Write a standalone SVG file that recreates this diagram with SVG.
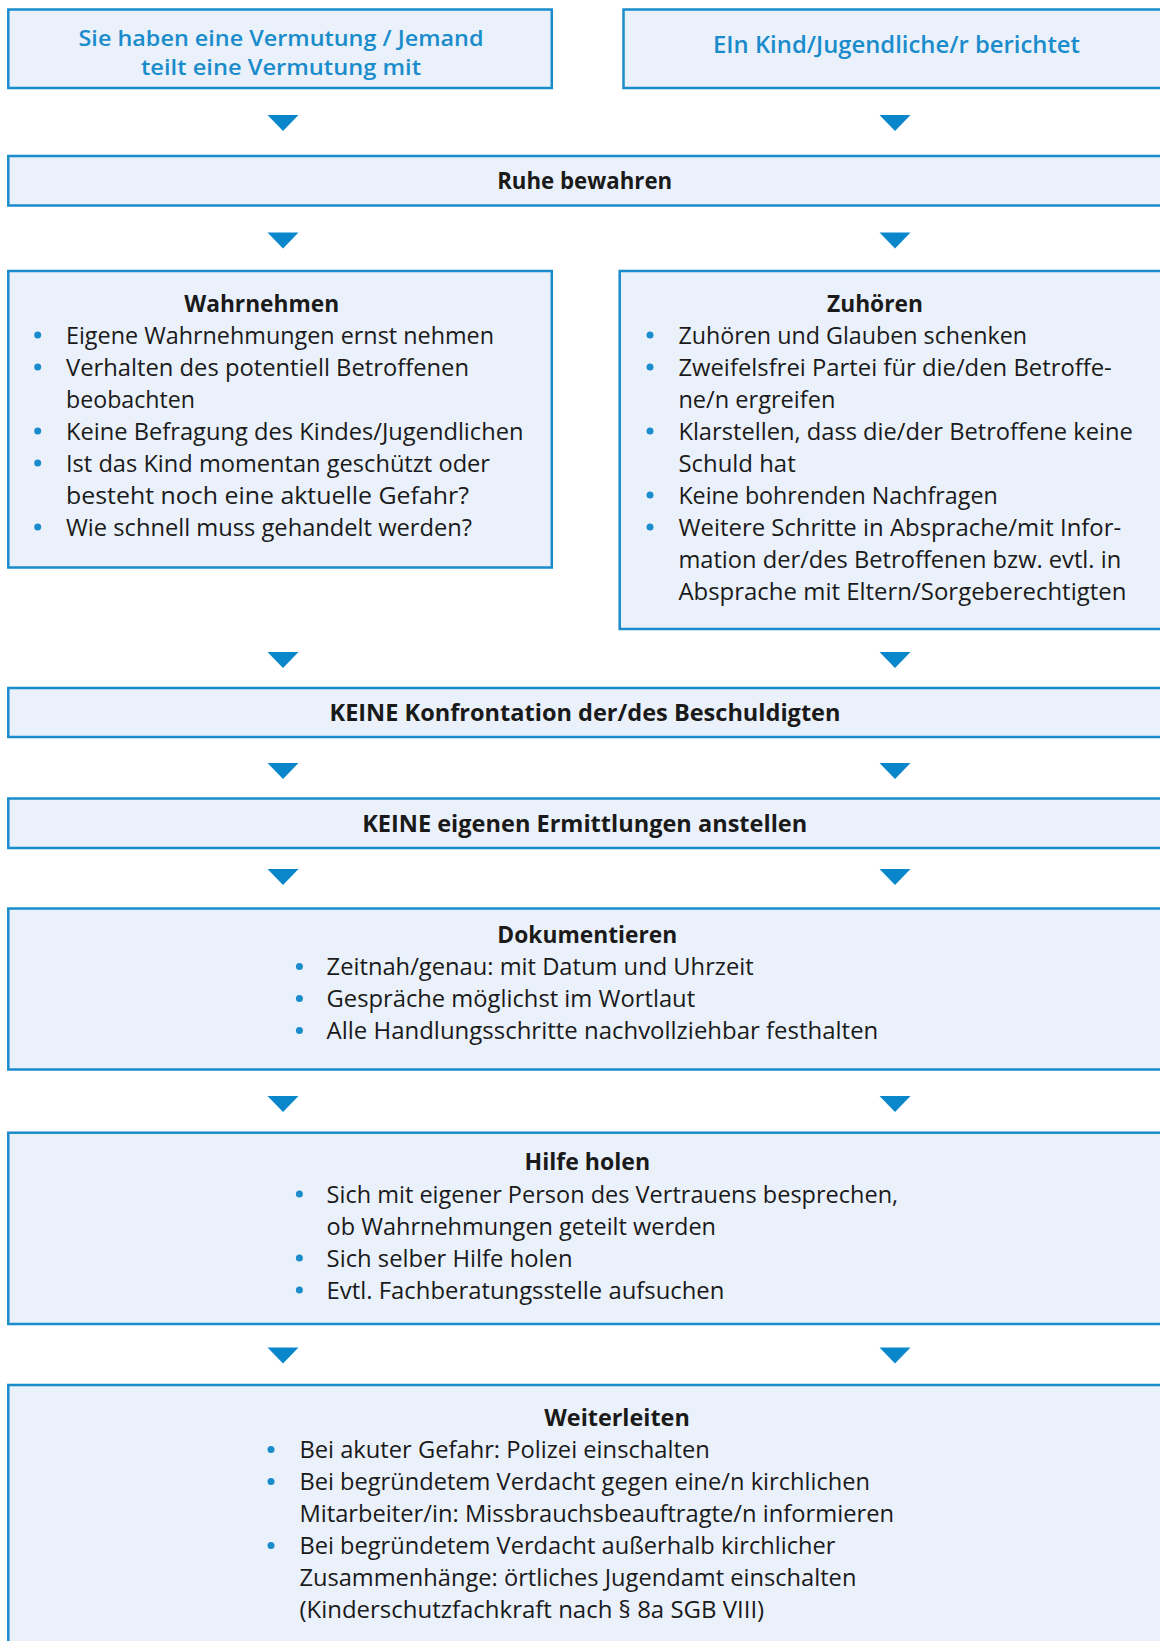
<svg xmlns="http://www.w3.org/2000/svg" width="1160" height="1641" viewBox="0 0 1160 1641">
<style>
.box{fill:#eaf1fa;stroke:#1a8ccc;stroke-width:2.5}
.arr{fill:#0a87cb}
.dot{fill:#1a8ccc}
text{font-family:"Open Sans","Noto Sans",sans-serif;fill:#1a1a1a}
.b{font-size:23.3px}
.t{font-size:23px;font-weight:700;text-anchor:middle}
.bt{font-size:21.3px;font-weight:600;text-anchor:middle;fill:#1a8ccc}
.bt2{font-size:23px;font-weight:600;text-anchor:middle;fill:#1a8ccc}
</style>
<rect width="1160" height="1641" fill="#ffffff"/>
<g id="connectors">
<polygon class="arr" points="267.5,115 298.5,115 283,131"/>
<polygon class="arr" points="879.5,115 910.5,115 895,131"/>
<polygon class="arr" points="267.5,232.5 298.5,232.5 283,248.5"/>
<polygon class="arr" points="879.5,232.5 910.5,232.5 895,248.5"/>
<polygon class="arr" points="267.5,652 298.5,652 283,668"/>
<polygon class="arr" points="879.5,652 910.5,652 895,668"/>
<polygon class="arr" points="267.5,763 298.5,763 283,779"/>
<polygon class="arr" points="879.5,763 910.5,763 895,779"/>
<polygon class="arr" points="267.5,869 298.5,869 283,885"/>
<polygon class="arr" points="879.5,869 910.5,869 895,885"/>
<polygon class="arr" points="267.5,1096 298.5,1096 283,1112"/>
<polygon class="arr" points="879.5,1096 910.5,1096 895,1112"/>
<polygon class="arr" points="267.5,1347.5 298.5,1347.5 283,1363.5"/>
<polygon class="arr" points="879.5,1347.5 910.5,1347.5 895,1363.5"/>
</g>
<g id="vermutung">
<rect class="box" x="8.3" y="9.5" width="543.5" height="78.5"/>
<text class="bt" x="281" y="45.5" textLength="405" lengthAdjust="spacingAndGlyphs">Sie haben eine Vermutung / Jemand</text>
<text class="bt" x="281" y="74.5" textLength="280" lengthAdjust="spacingAndGlyphs">teilt eine Vermutung mit</text>
</g>
<g id="kind-berichtet">
<rect class="box" x="623.5" y="9.5" width="560" height="78.5"/>
<text class="bt2" x="896.5" y="52.5" textLength="367" lengthAdjust="spacingAndGlyphs">EIn Kind/Jugendliche/r berichtet</text>
</g>
<g id="ruhe">
<rect class="box" x="8.3" y="156" width="1170" height="49.5"/>
<text class="t" x="584.7" y="189" textLength="175" lengthAdjust="spacingAndGlyphs">Ruhe bewahren</text>
</g>
<g id="wahrnehmen">
<rect class="box" x="8.3" y="271" width="543.5" height="296.5"/>
<text class="t" x="261.7" y="311.5" textLength="155" lengthAdjust="spacingAndGlyphs">Wahrnehmen</text>
<circle class="dot" cx="37.7" cy="335" r="3.5"/>
<circle class="dot" cx="37.7" cy="367" r="3.5"/>
<circle class="dot" cx="37.7" cy="431" r="3.5"/>
<circle class="dot" cx="37.7" cy="463" r="3.5"/>
<circle class="dot" cx="37.7" cy="527" r="3.5"/>
<text class="b" x="66" y="343.5" textLength="428" lengthAdjust="spacingAndGlyphs">Eigene Wahrnehmungen ernst nehmen</text>
<text class="b" x="66" y="375.5" textLength="403" lengthAdjust="spacingAndGlyphs">Verhalten des potentiell Betroffenen</text>
<text class="b" x="66" y="407.5" textLength="129" lengthAdjust="spacingAndGlyphs">beobachten</text>
<text class="b" x="66" y="439.5" textLength="457.5" lengthAdjust="spacingAndGlyphs">Keine Befragung des Kindes/Jugendlichen</text>
<text class="b" x="66" y="471.5" textLength="424" lengthAdjust="spacingAndGlyphs">Ist das Kind momentan geschützt oder</text>
<text class="b" x="66" y="503.5" textLength="403" lengthAdjust="spacingAndGlyphs">besteht noch eine aktuelle Gefahr?</text>
<text class="b" x="66" y="535.5" textLength="406" lengthAdjust="spacingAndGlyphs">Wie schnell muss gehandelt werden?</text>
</g>
<g id="zuhoeren">
<rect class="box" x="619.7" y="271" width="560" height="358"/>
<text class="t" x="875" y="311.5" textLength="96" lengthAdjust="spacingAndGlyphs">Zuhören</text>
<circle class="dot" cx="650" cy="335" r="3.5"/>
<circle class="dot" cx="650" cy="367" r="3.5"/>
<circle class="dot" cx="650" cy="431" r="3.5"/>
<circle class="dot" cx="650" cy="495" r="3.5"/>
<circle class="dot" cx="650" cy="527" r="3.5"/>
<text class="b" x="678.4" y="343.5" textLength="348.6" lengthAdjust="spacingAndGlyphs">Zuhören und Glauben schenken</text>
<text class="b" x="678.4" y="375.5" textLength="433.4" lengthAdjust="spacingAndGlyphs">Zweifelsfrei Partei für die/den Betroffe-</text>
<text class="b" x="678.4" y="407.5" textLength="157" lengthAdjust="spacingAndGlyphs">ne/n ergreifen</text>
<text class="b" x="678.4" y="439.5" textLength="454.4" lengthAdjust="spacingAndGlyphs">Klarstellen, dass die/der Betroffene keine</text>
<text class="b" x="678.4" y="471.5" textLength="117.3" lengthAdjust="spacingAndGlyphs">Schuld hat</text>
<text class="b" x="678.4" y="503.5" textLength="319.3" lengthAdjust="spacingAndGlyphs">Keine bohrenden Nachfragen</text>
<text class="b" x="678.4" y="535.5" textLength="442.8" lengthAdjust="spacingAndGlyphs">Weitere Schritte in Absprache/mit Infor-</text>
<text class="b" x="678.4" y="567.5" textLength="442.8" lengthAdjust="spacingAndGlyphs">mation der/des Betroffenen bzw. evtl. in</text>
<text class="b" x="678.4" y="599.5" textLength="448" lengthAdjust="spacingAndGlyphs">Absprache mit Eltern/Sorgeberechtigten</text>
</g>
<g id="keine-konfrontation">
<rect class="box" x="8.3" y="688" width="1170" height="49"/>
<text class="t" x="585" y="720.5" textLength="511" lengthAdjust="spacingAndGlyphs">KEINE Konfrontation der/des Beschuldigten</text>
</g>
<g id="keine-ermittlungen">
<rect class="box" x="8.3" y="798.5" width="1170" height="49.5"/>
<text class="t" x="584.7" y="831.5" textLength="445" lengthAdjust="spacingAndGlyphs">KEINE eigenen Ermittlungen anstellen</text>
</g>
<g id="dokumentieren">
<rect class="box" x="8.3" y="908.5" width="1170" height="161"/>
<text class="t" x="587.3" y="943" textLength="180" lengthAdjust="spacingAndGlyphs">Dokumentieren</text>
<circle class="dot" cx="299.4" cy="966.5" r="3.5"/>
<circle class="dot" cx="299.4" cy="998.5" r="3.5"/>
<circle class="dot" cx="299.4" cy="1030.5" r="3.5"/>
<text class="b" x="326.6" y="975" textLength="427.1" lengthAdjust="spacingAndGlyphs">Zeitnah/genau: mit Datum und Uhrzeit</text>
<text class="b" x="326.6" y="1007" textLength="368.5" lengthAdjust="spacingAndGlyphs">Gespräche möglichst im Wortlaut</text>
<text class="b" x="326.6" y="1039" textLength="551.7" lengthAdjust="spacingAndGlyphs">Alle Handlungsschritte nachvollziehbar festhalten</text>
</g>
<g id="hilfe-holen">
<rect class="box" x="8.3" y="1132.7" width="1170" height="191.3"/>
<text class="t" x="587.3" y="1170" textLength="125.6" lengthAdjust="spacingAndGlyphs">Hilfe holen</text>
<circle class="dot" cx="299.4" cy="1194" r="3.5"/>
<circle class="dot" cx="299.4" cy="1258" r="3.5"/>
<circle class="dot" cx="299.4" cy="1290" r="3.5"/>
<text class="b" x="326.6" y="1202.5" textLength="571.6" lengthAdjust="spacingAndGlyphs">Sich mit eigener Person des Vertrauens besprechen,</text>
<text class="b" x="326.6" y="1234.5" textLength="389.4" lengthAdjust="spacingAndGlyphs">ob Wahrnehmungen geteilt werden</text>
<text class="b" x="326.6" y="1266.5" textLength="246" lengthAdjust="spacingAndGlyphs">Sich selber Hilfe holen</text>
<text class="b" x="326.6" y="1298.5" textLength="397.8" lengthAdjust="spacingAndGlyphs">Evtl. Fachberatungsstelle aufsuchen</text>
</g>
<g id="weiterleiten">
<rect class="box" x="8.3" y="1385" width="1170" height="300"/>
<text class="t" x="617" y="1425.5" textLength="145.5" lengthAdjust="spacingAndGlyphs">Weiterleiten</text>
<circle class="dot" cx="271" cy="1449.5" r="3.5"/>
<circle class="dot" cx="271" cy="1481.5" r="3.5"/>
<circle class="dot" cx="271" cy="1545.5" r="3.5"/>
<text class="b" x="299.4" y="1458" textLength="410.4" lengthAdjust="spacingAndGlyphs">Bei akuter Gefahr: Polizei einschalten</text>
<text class="b" x="299.4" y="1490" textLength="570.6" lengthAdjust="spacingAndGlyphs">Bei begründetem Verdacht gegen eine/n kirchlichen</text>
<text class="b" x="299.4" y="1522" textLength="594.6" lengthAdjust="spacingAndGlyphs">Mitarbeiter/in: Missbrauchsbeauftragte/n informieren</text>
<text class="b" x="299.4" y="1554" textLength="536" lengthAdjust="spacingAndGlyphs">Bei begründetem Verdacht außerhalb kirchlicher</text>
<text class="b" x="299.4" y="1586" textLength="557" lengthAdjust="spacingAndGlyphs">Zusammenhänge: örtliches Jugendamt einschalten</text>
<text class="b" x="299.4" y="1618" textLength="464.8" lengthAdjust="spacingAndGlyphs">(Kinderschutzfachkraft nach § 8a SGB VIII)</text>
</g>
</svg>
